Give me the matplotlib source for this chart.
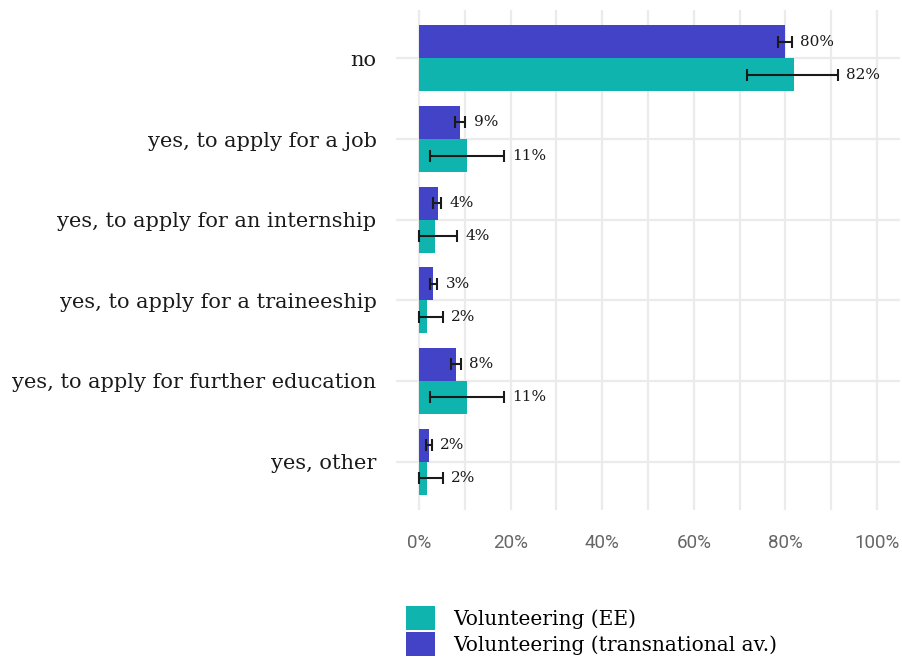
import matplotlib
matplotlib.use("Agg")
import matplotlib.pyplot as plt
from matplotlib.patches import Patch
import numpy as np

# Survey answers (top to bottom)
categories = [
    "no",
    "yes, to apply for a job",
    "yes, to apply for an internship",
    "yes, to apply for a traineeship",
    "yes, to apply for further education",
    "yes, other",
]

# Shares in percent
ee_values = [81.8, 10.6, 3.6, 1.8, 10.6, 1.8]
trans_values = [79.8, 9.0, 4.1, 3.1, 8.1, 2.2]

# Confidence intervals (lower, upper) in percent
ee_low = [71.6, 2.4, 0.0, 0.0, 2.4, 0.0]
ee_high = [91.5, 18.5, 8.3, 5.2, 18.5, 5.2]
trans_low = [78.3, 7.8, 3.1, 2.4, 7.0, 1.6]
trans_high = [81.4, 10.1, 4.8, 4.0, 9.2, 2.8]

series_labels = ["Volunteering (EE)", "Volunteering (transnational av.)"]
ee_color = "#10B4AE"
trans_color = "#4343C8"

serif = ["DejaVu Serif"]
sans = ["Roboto", "DejaVu Sans"]

fig = plt.figure(figsize=(9.03, 6.61), dpi=100)
ax = fig.add_axes([396 / 903, 1 - 510 / 661, 504 / 903, 500 / 661])

y = np.arange(len(categories))
h = 0.41

def draw(vals, lo, hi, offset, color):
    vals = np.asarray(vals)
    ypos = y + offset
    ax.barh(ypos, vals, height=h, color=color, zorder=2)
    err = np.vstack([vals - np.asarray(lo), np.asarray(hi) - vals])
    ax.errorbar(vals, ypos, xerr=err, fmt="none", ecolor="#1a1a1a",
                elinewidth=1.5, capsize=4, capthick=1.5, zorder=3)
    for v, up, yy in zip(vals, hi, ypos):
        ax.annotate(f"{v:.0f}%", xy=(up, yy), xytext=(6, 0),
                    textcoords="offset points", va="center", ha="left",
                    fontsize=11, family=serif, color="#1a1a1a")

draw(trans_values, trans_low, trans_high, -h / 2, trans_color)
draw(ee_values, ee_low, ee_high, h / 2, ee_color)

ax.set_xlim(-5, 105)
ax.set_ylim(len(categories) - 1 + 0.6, -0.6)
ax.set_xticks(np.arange(0, 101, 20))
ax.set_xticklabels([f"{t}%" for t in range(0, 101, 20)])
ax.set_xticks(np.arange(10, 100, 20), minor=True)
ax.set_yticks(y)
ax.set_yticklabels(categories)

for lab in ax.get_yticklabels():
    lab.set_family(serif)
    lab.set_fontsize(15)
    lab.set_color("#1a1a1a")
for lab in ax.get_xticklabels():
    lab.set_family(sans)
    lab.set_fontsize(13.5)
    lab.set_color("#666666")

ax.tick_params(axis="both", which="both", length=0)
ax.tick_params(axis="y", pad=14)
ax.tick_params(axis="x", pad=17)
ax.grid(True, which="both", axis="x", color="#EBEBEB", linewidth=1.6, zorder=0)
ax.grid(True, which="major", axis="y", color="#EBEBEB", linewidth=1.6, zorder=0)
ax.set_axisbelow(True)
for s in ax.spines.values():
    s.set_visible(False)

handles = [Patch(facecolor=ee_color, edgecolor="none"),
           Patch(facecolor=trans_color, edgecolor="none")]
fig.legend(handles, series_labels, loc="upper left",
           bbox_to_anchor=(392 / 903, 1 - 592 / 661), frameon=False,
           prop={"family": serif, "size": 14.5},
           handlelength=1.45, handleheight=1.45, handletextpad=0.9,
           labelspacing=0.1, borderpad=0.2)

fig.savefig("out.png", dpi=100)
